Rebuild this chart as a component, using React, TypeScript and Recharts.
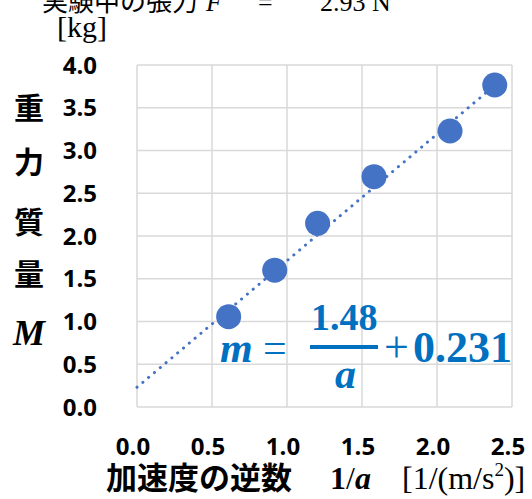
import { ScatterChart, Scatter, XAxis, YAxis, CartesianGrid, ReferenceLine } from 'recharts'

const invAccel = [0.611, 0.918, 1.204, 1.58, 2.087, 2.385]
const massKg = [1.056, 1.6, 2.148, 2.694, 3.228, 3.766]
const xTicks = [0, 0.5, 1, 1.5, 2, 2.5]
const yTicks = [0, 0.5, 1, 1.5, 2, 2.5, 3, 3.5, 4]
const trendStart = { x: 0, y: 0.231 }
const trendEnd = { x: 2.47, y: 3.887 }

const data = invAccel.map((x, i) => ({ x, y: massKg[i] }))

const BLUE = '#4472C4'
const EQ = '#0070C0'
const SANS = '"Open Sans", "Noto Sans", sans-serif'
const SERIF = '"Liberation Serif", "Noto Sans CJK JP", serif'
const CJK = '"Noto Sans CJK JP", sans-serif'

const tickStyle = { fontFamily: SANS, fontWeight: 700, fontSize: 24, fill: '#000' }

function Dot(props: any) {
  return <circle cx={props.cx} cy={props.cy} r={12.5} fill={BLUE} />
}

export default function App() {
  return (
    <div style={{ position: 'absolute', left: 0, top: 0, width: 532, height: 499, background: '#fff' }}>
      <ScatterChart width={532} height={499} margin={{ top: 65, right: 20, bottom: 52, left: 0 }}>
        <CartesianGrid stroke="#d9d9d9" strokeWidth={1.5} />
        <XAxis
          type="number"
          dataKey="x"
          domain={[0, 2.5]}
          ticks={xTicks}
          tickFormatter={(v) => v.toFixed(1)}
          axisLine={false}
          tickLine={false}
          tickSize={0}
          tickMargin={31}
          height={40}
          tick={{ ...tickStyle, dx: -4 }}
          interval={0}
        />
        <YAxis
          type="number"
          dataKey="y"
          domain={[0, 4]}
          ticks={yTicks}
          tickFormatter={(v) => v.toFixed(1)}
          axisLine={false}
          tickLine={false}
          tickSize={0}
          tickMargin={40}
          width={137}
          tick={tickStyle}
          interval={0}
        />
        <ReferenceLine
          segment={[trendStart, trendEnd]}
          stroke={BLUE}
          strokeWidth={3}
          strokeDasharray="0.1 7.5"
          strokeLinecap="round"
          ifOverflow="visible"
        />
        <Scatter data={data} shape={Dot} isAnimationActive={false} />
      </ScatterChart>
      <svg width={532} height={499} style={{ position: 'absolute', left: 0, top: 0, pointerEvents: 'none' }}>
        {/* title, cut off at the top like the source image */}
        <text y={11} fontFamily={SERIF} fontSize={26} fill="#000">
          <tspan x={42}>実験中の張力</tspan>
          <tspan x={206} fontStyle="italic">F</tspan>
          <tspan x={258}>=</tspan>
          <tspan x={320}>2.93 N</tspan>
        </text>
        <text x={57} y={37} fontFamily={SERIF} fontSize={30} fill="#000">[kg]</text>
        {['重', '力', '質', '量'].map((c, i) => (
          <text key={c} x={29} y={[119, 173, 233, 285][i]} textAnchor="middle" fontFamily={CJK} fontWeight={700} fontSize={30} fill="#000">{c}</text>
        ))}
        <text x={29} y={345} textAnchor="middle" fontFamily={SERIF} fontStyle="italic" fontWeight={700} fontSize={36} fill="#000">M</text>

        <text x={106} y={489} fontFamily={CJK} fontWeight={700} fontSize={31} fill="#000">加速度の逆数</text>
        <text x={330} y={489} fontFamily={SERIF} fontSize={32} fill="#000">
          <tspan fontWeight={700}>1</tspan>
          <tspan>/</tspan>
          <tspan fontWeight={700} fontStyle="italic">a</tspan>
        </text>
        <text x={402} y={489} fontFamily={SERIF} fontSize={32} fill="#000">
          <tspan>[1/(m/s</tspan>
          <tspan fontSize={19} dy={-13}>2</tspan>
          <tspan dy={13}>)]</tspan>
        </text>

        <text x={220} y={362} fontFamily={SERIF} fontWeight={700} fontStyle="italic" fontSize={42} fill={EQ}>m</text>
        <text x={263} y={362} fontFamily={SERIF} fontSize={42} fill={EQ}>=</text>
        <text x={311} y={330} fontFamily={SERIF} fontWeight={700} fontSize={38} fill={EQ}>1.48</text>
        <rect x={310} y={345} width={68} height={4} fill={EQ} />
        <text x={335} y={388} fontFamily={SERIF} fontWeight={700} fontStyle="italic" fontSize={42} fill={EQ}>a</text>
        <text x={384} y={362} fontFamily={SERIF} fontSize={44} fill={EQ}>+</text>
        <text x={413} y={362} fontFamily={SERIF} fontWeight={700} fontSize={44} fill={EQ}>0.231</text>
      </svg>
    </div>
  )
}
